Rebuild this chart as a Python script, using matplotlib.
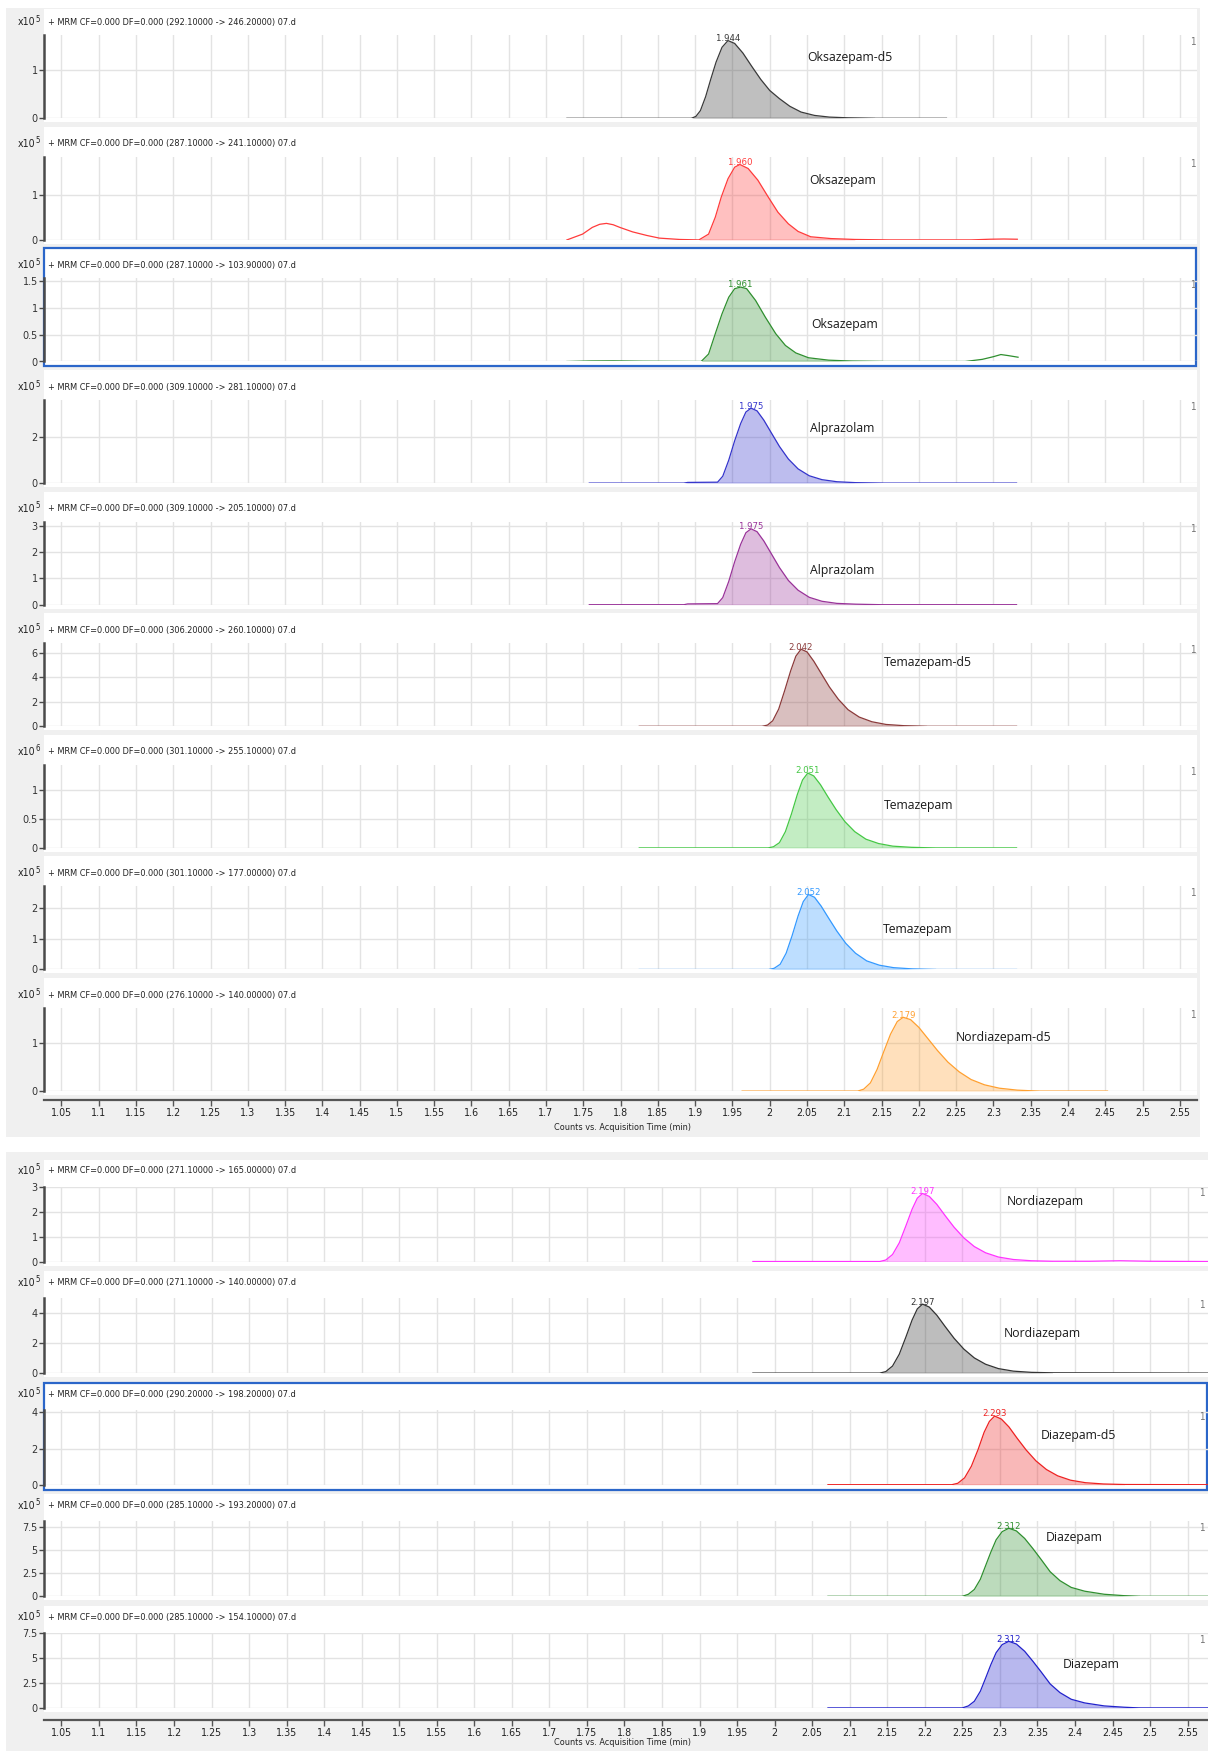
import numpy as np
import matplotlib.pyplot as plt
import matplotlib.font_manager as fm
from matplotlib.patches import Rectangle

# MRM transitions, one chromatogram per row
compounds = ["Oksazepam-d5", "Oksazepam", "Oksazepam", "Alprazolam", "Alprazolam",
             "Temazepam-d5", "Temazepam", "Temazepam", "Nordiazepam-d5",
             "Nordiazepam", "Nordiazepam", "Diazepam-d5", "Diazepam", "Diazepam"]
transitions = ["292.10000 -> 246.20000", "287.10000 -> 241.10000", "287.10000 -> 103.90000",
               "309.10000 -> 281.10000", "309.10000 -> 205.10000", "306.20000 -> 260.10000",
               "301.10000 -> 255.10000", "301.10000 -> 177.00000", "276.10000 -> 140.00000",
               "271.10000 -> 165.00000", "271.10000 -> 140.00000", "290.20000 -> 198.20000",
               "285.10000 -> 193.20000", "285.10000 -> 154.10000"]
exponents = [5, 5, 5, 5, 5, 5, 6, 5, 5, 5, 5, 5, 5, 5]
rt_labels = ["1.944", "1.960", "1.961", "1.975", "1.975", "2.042", "2.051", "2.052",
             "2.179", "2.197", "2.197", "2.293", "2.312", "2.312"]
y_ticks = [[0, 1], [0, 1], [0, 0.5, 1, 1.5], [0, 2], [0, 1, 2, 3], [0, 2, 4, 6],
           [0, 0.5, 1], [0, 1, 2], [0, 1], [0, 1, 2, 3], [0, 2, 4], [0, 2, 4],
           [0, 2.5, 5, 7.5], [0, 2.5, 5, 7.5]]
integration = [(1.895, 2.140), (1.905, 2.114), (1.908, 2.150), (1.885, 2.150), (1.885, 2.150),
               (1.990, 2.210), (1.998, 2.220), (1.999, 2.221), (2.118, 2.360),
               (2.140, 2.370), (2.140, 2.370), (2.236, 2.466), (2.250, 2.485), (2.250, 2.485)]

# acquisition time (min) and counts (x10^n) for each trace
t_oks_d5 = [1.728, 1.895, 1.901, 1.907, 1.914, 1.921, 1.928, 1.936, 1.944, 1.953, 1.964,
            1.976, 1.988, 2.000, 2.013, 2.027, 2.042, 2.060, 2.080, 2.105, 2.140, 2.237]
c_oks_d5 = [0, 0, 0.04, 0.16, 0.45, 0.82, 1.17, 1.48, 1.62, 1.56, 1.36,
            1.08, 0.81, 0.58, 0.41, 0.25, 0.13, 0.06, 0.025, 0.01, 0, 0]

t_oks_241 = [1.728, 1.749, 1.762, 1.772, 1.781, 1.790, 1.799, 1.816, 1.835, 1.852, 1.879,
             1.905, 1.918, 1.927, 1.935, 1.944, 1.953, 1.960, 1.971, 1.984, 1.998, 2.011,
             2.025, 2.038, 2.055, 2.082, 2.114, 2.160, 2.270, 2.295, 2.314, 2.332]
c_oks_241 = [0, 0.13, 0.28, 0.35, 0.37, 0.34, 0.28, 0.18, 0.10, 0.04, 0.01,
             0, 0.13, 0.51, 0.96, 1.37, 1.63, 1.69, 1.60, 1.34, 0.96, 0.62,
             0.36, 0.19, 0.07, 0.03, 0.01, 0, 0, 0.015, 0.02, 0.015]

t_oks_103 = [1.728, 1.760, 1.790, 1.830, 1.908, 1.918, 1.927, 1.936, 1.945, 1.953, 1.961,
             1.969, 1.981, 1.994, 2.008, 2.021, 2.035, 2.052, 2.079, 2.110, 2.150, 2.262,
             2.285, 2.300, 2.310, 2.320, 2.333]
c_oks_103 = [0, 0.01, 0.012, 0.005, 0, 0.14, 0.52, 0.89, 1.20, 1.36, 1.39,
             1.36, 1.14, 0.83, 0.52, 0.30, 0.16, 0.07, 0.025, 0.008, 0, 0,
             0.04, 0.09, 0.13, 0.11, 0.08]

t_alp = [1.758, 1.885, 1.890, 1.930, 1.937, 1.945, 1.953, 1.961, 1.968, 1.975, 1.983,
         1.992, 2.002, 2.013, 2.025, 2.038, 2.053, 2.070, 2.090, 2.115, 2.150, 2.331]
c_alp_281 = [0, 0, 0.03, 0.04, 0.30, 1.00, 1.85, 2.60, 3.10, 3.27, 3.15,
             2.75, 2.20, 1.60, 1.05, 0.62, 0.32, 0.15, 0.06, 0.02, 0, 0]
c_alp_205 = [0, 0, 0.03, 0.04, 0.27, 0.88, 1.63, 2.29, 2.73, 2.88, 2.77,
             2.42, 1.94, 1.41, 0.92, 0.55, 0.28, 0.13, 0.05, 0.02, 0, 0]

t_tem_d5 = [1.825, 1.990, 1.997, 2.004, 2.012, 2.020, 2.028, 2.035, 2.042, 2.050, 2.059,
            2.069, 2.080, 2.092, 2.105, 2.120, 2.137, 2.156, 2.180, 2.210, 2.331]
c_tem_d5 = [0, 0, 0.10, 0.45, 1.40, 2.90, 4.50, 5.70, 6.27, 6.05, 5.30,
            4.30, 3.20, 2.20, 1.35, 0.75, 0.37, 0.15, 0.05, 0, 0]

t_tem_255 = [1.825, 1.998, 2.005, 2.013, 2.021, 2.029, 2.037, 2.044, 2.051, 2.059, 2.068,
             2.078, 2.089, 2.101, 2.114, 2.129, 2.146, 2.165, 2.190, 2.220, 2.331]
c_tem_255 = [0, 0, 0.02, 0.09, 0.28, 0.58, 0.92, 1.17, 1.29, 1.24, 1.09,
             0.88, 0.66, 0.45, 0.28, 0.15, 0.075, 0.03, 0.01, 0, 0]

t_tem_177 = [1.825, 1.999, 2.006, 2.014, 2.022, 2.030, 2.038, 2.045, 2.052, 2.060, 2.069,
             2.079, 2.090, 2.102, 2.115, 2.130, 2.147, 2.166, 2.191, 2.221, 2.331]
c_tem_177 = [0, 0, 0.04, 0.17, 0.53, 1.10, 1.74, 2.21, 2.44, 2.35, 2.06,
             1.67, 1.25, 0.85, 0.53, 0.28, 0.14, 0.06, 0.02, 0, 0]

t_nor_d5 = [1.963, 2.118, 2.126, 2.135, 2.144, 2.153, 2.162, 2.171, 2.179, 2.189, 2.200,
            2.212, 2.225, 2.239, 2.254, 2.270, 2.288, 2.308, 2.332, 2.360, 2.453]
c_nor_d5 = [0, 0, 0.04, 0.17, 0.45, 0.82, 1.18, 1.44, 1.53, 1.48, 1.32,
            1.09, 0.84, 0.60, 0.40, 0.24, 0.13, 0.06, 0.02, 0, 0]

t_nor_165 = [1.971, 2.140, 2.148, 2.157, 2.166, 2.175, 2.183, 2.190, 2.197, 2.206, 2.216,
             2.227, 2.239, 2.252, 2.266, 2.281, 2.298, 2.318, 2.342, 2.370, 2.420, 2.460,
             2.500, 2.578]
c_nor_165 = [0, 0, 0.06, 0.28, 0.75, 1.45, 2.10, 2.55, 2.74, 2.62, 2.30,
             1.85, 1.38, 0.95, 0.60, 0.35, 0.18, 0.08, 0.03, 0.01, 0.01, 0.03,
             0.01, 0]

t_nor_140 = [1.971, 2.140, 2.148, 2.157, 2.166, 2.175, 2.183, 2.190, 2.197, 2.206, 2.216,
             2.227, 2.239, 2.252, 2.266, 2.281, 2.298, 2.318, 2.342, 2.370, 2.578]
c_nor_140 = [0, 0, 0.10, 0.47, 1.26, 2.43, 3.53, 4.28, 4.60, 4.40, 3.86,
             3.11, 2.32, 1.60, 1.01, 0.59, 0.30, 0.13, 0.05, 0.02, 0]

t_dia_d5 = [2.071, 2.236, 2.244, 2.253, 2.262, 2.271, 2.279, 2.286, 2.293, 2.302, 2.312,
            2.323, 2.335, 2.348, 2.362, 2.377, 2.394, 2.414, 2.438, 2.466, 2.578]
c_dia_d5 = [0, 0, 0.08, 0.38, 1.02, 1.95, 2.90, 3.50, 3.80, 3.63, 3.20,
            2.57, 1.92, 1.32, 0.84, 0.49, 0.25, 0.11, 0.04, 0.01, 0]

t_dia = [2.071, 2.250, 2.258, 2.266, 2.274, 2.281, 2.288, 2.295, 2.303, 2.312, 2.322,
         2.333, 2.344, 2.355, 2.367, 2.380, 2.395, 2.413, 2.439, 2.465, 2.485, 2.578]
c_dia_193 = [0, 0, 0.22, 0.74, 1.84, 3.31, 4.78, 6.10, 6.98, 7.35, 7.06,
             6.25, 5.15, 3.97, 2.65, 1.69, 0.96, 0.55, 0.22, 0.07, 0, 0]
c_dia_154 = [0, 0, 0.20, 0.67, 1.68, 3.00, 4.36, 5.56, 6.37, 6.70, 6.43,
             5.70, 4.69, 3.62, 2.41, 1.54, 0.87, 0.50, 0.20, 0.07, 0, 0]

traces = [(t_oks_d5, c_oks_d5), (t_oks_241, c_oks_241), (t_oks_103, c_oks_103),
          (t_alp, c_alp_281), (t_alp, c_alp_205), (t_tem_d5, c_tem_d5),
          (t_tem_255, c_tem_255), (t_tem_177, c_tem_177), (t_nor_d5, c_nor_d5),
          (t_nor_165, c_nor_165), (t_nor_140, c_nor_140), (t_dia_d5, c_dia_d5),
          (t_dia, c_dia_193), (t_dia, c_dia_154)]

# drawing style
colors = ["#3a3a3a", "#ff3b3b", "#2f8f2f", "#3434cc", "#993399", "#8b3a3a", "#45c845",
          "#3399ff", "#ffa030", "#ff33ff", "#333333", "#ee2222", "#2f8f2f", "#2222cc"]
y_max = [1.73, 1.86, 1.55, 3.62, 3.15, 6.75, 1.43, 2.70, 1.72, 3.02, 5.0, 4.15, 8.1, 7.55]
label_x = [2.050, 2.053, 2.056, 2.054, 2.054, 2.153, 2.153, 2.152, 2.250,
           2.309, 2.305, 2.354, 2.361, 2.384]
label_y = [1.26, 1.33, 0.69, 2.39, 1.31, 5.2, 0.73, 1.31, 1.12, 2.43, 2.67, 2.7, 6.4, 4.37]
selected = [2, 11]

W, H = 1208, 1751
x_ticks = [round(1.05 + 0.05 * j, 2) for j in range(31)]


def narrow_font():
    # prefer a condensed sans for the small instrument text
    fonts = fm.fontManager.ttflist
    if any(f.name == "Liberation Sans Narrow" for f in fonts):
        return dict(family="Liberation Sans Narrow"), 1.0
    if any(f.name == "DejaVu Sans" and f.stretch == "condensed" for f in fonts):
        return dict(family="DejaVu Sans", stretch="condensed"), 0.95
    return dict(family="Liberation Sans"), 0.88


narrow_kw, shrink = narrow_font()


def nfp(size):
    return fm.FontProperties(size=size * shrink, **narrow_kw)


label_font = ["Open Sans", "DejaVu Sans"]

fig = plt.figure(figsize=(W / 100, H / 100), dpi=100)
fig.patch.set_facecolor("white")


def add_rect(x0, y0, x1, y1, **kw):
    fig.patches.append(Rectangle((x0 / W, 1 - y1 / H), (x1 - x0) / W, (y1 - y0) / H,
                                 transform=fig.transFigure, figure=fig, **kw))


def fy(y):
    return 1 - y / H


# two stacked chromatogram windows
blocks = [
    dict(rows=range(0, 9), base0=118.3, step=121.6, ax_h=83, right=1197, xlim=(1.0267, 2.573),
         gray=(6, 8, 1200, 1137), white_top=113, head=96, axis_y=1100, xlabel_y=1128,
         one_x=1193),
    dict(rows=range(9, 14), base0=1261.5, step=111.6, ax_h=75, right=1208, xlim=(1.0268, 2.5772),
         gray=(6, 1152, 1208, 1751), white_top=102, head=90.5, axis_y=1719.5, xlabel_y=1742,
         one_x=1202),
]

for blk in blocks:
    gx0, gy0, gx1, gy1 = blk["gray"]
    add_rect(gx0, gy0, gx1, gy1, facecolor="#f0f0f0", edgecolor="none", zorder=-3)

    for k, i in enumerate(blk["rows"]):
        base = blk["base0"] + blk["step"] * k
        top = base - blk["ax_h"]
        right = blk["right"]
        wtop = max(base - blk["white_top"], gy0 + 1)
        if i in selected:
            add_rect(44, wtop, right - 1, base + 5, facecolor="white", edgecolor="#2b66c9",
                     linewidth=1.6, zorder=-2)
        else:
            add_rect(44, wtop, right, base + 4, facecolor="white", edgecolor="none", zorder=-2)

        ax = fig.add_axes([44 / W, fy(base), (right - 44) / W, (base - top) / H])
        ax.patch.set_alpha(0)
        for s in ["top", "right", "bottom"]:
            ax.spines[s].set_visible(False)
        ax.spines["left"].set_color("#4a4a4a")
        ax.spines["left"].set_linewidth(1.8)
        ax.set_xlim(*blk["xlim"])
        ax.set_ylim(0, y_max[i])
        ax.set_xticks(x_ticks)
        ax.set_yticks(y_ticks[i])
        ax.set_yticklabels([f"{v:g}" for v in y_ticks[i]], fontproperties=nfp(8.2),
                           color="#333333")
        ax.tick_params(axis="x", length=0, labelbottom=False)
        ax.tick_params(axis="y", length=3.5, width=1, color="#4a4a4a", pad=1)
        ax.grid(True, color="#e3e3e3", linewidth=1)
        ax.set_axisbelow(True)

        t = np.array(traces[i][0])
        c = np.array(traces[i][1])
        col = colors[i]
        a, b = integration[i]
        m = (t >= a) & (t <= b)
        ax.fill_between(t[m], c[m], 0, color=col, alpha=0.32, linewidth=0)
        ax.plot([a, b], [0, 0], color=col, linewidth=0.9)
        ax.plot(t, c, color=col, linewidth=0.9)

        apex = float(c.max())
        ax.annotate(rt_labels[i], (float(rt_labels[i]), apex), xytext=(0, 1.5),
                    textcoords="offset points", ha="center", va="center",
                    fontproperties=nfp(7.2), color=col)
        ax.text(label_x[i], label_y[i], compounds[i], fontsize=8.8, va="center",
                color="#1a1a1a", family=label_font)

        # header line above each plot
        hy = base - blk["head"]
        fig.text(18 / W, fy(hy), "x10", fontproperties=nfp(8), va="center",
                 color="#222222")
        fig.text(35 / W, fy(hy - 3), str(exponents[i]), fontproperties=nfp(6), va="center",
                 color="#222222")
        fig.text(48 / W, fy(hy), f"+ MRM CF=0.000 DF=0.000 ({transitions[i]}) 07.d",
                 fontproperties=nfp(6.9), va="center", color="#222222")
        fig.text(blk["one_x"] / W, fy(top + 7), "1", fontproperties=nfp(7.5), ha="center",
                 va="center", color="#777777")

    # shared time axis of the window
    bx = fig.add_axes([44 / W, fy(blk["axis_y"]), (blk["right"] - 44) / W, 0.0001])
    bx.patch.set_alpha(0)
    for s in ["top", "right", "left"]:
        bx.spines[s].set_visible(False)
    bx.spines["bottom"].set_color("#555555")
    bx.spines["bottom"].set_linewidth(1.6)
    bx.set_xlim(*blk["xlim"])
    bx.set_yticks([])
    bx.set_xticks(x_ticks)
    bx.set_xticklabels([f"{v:g}" for v in x_ticks], fontproperties=nfp(8.1), color="#222222")
    bx.tick_params(axis="x", direction="out", length=4, width=1, color="#555555", pad=2)
    fig.text(622 / W, fy(blk["xlabel_y"]), "Counts vs. Acquisition Time (min)",
             fontproperties=nfp(6.8), ha="center", va="center", color="#222222")

fig.savefig("out.png", dpi=100)
